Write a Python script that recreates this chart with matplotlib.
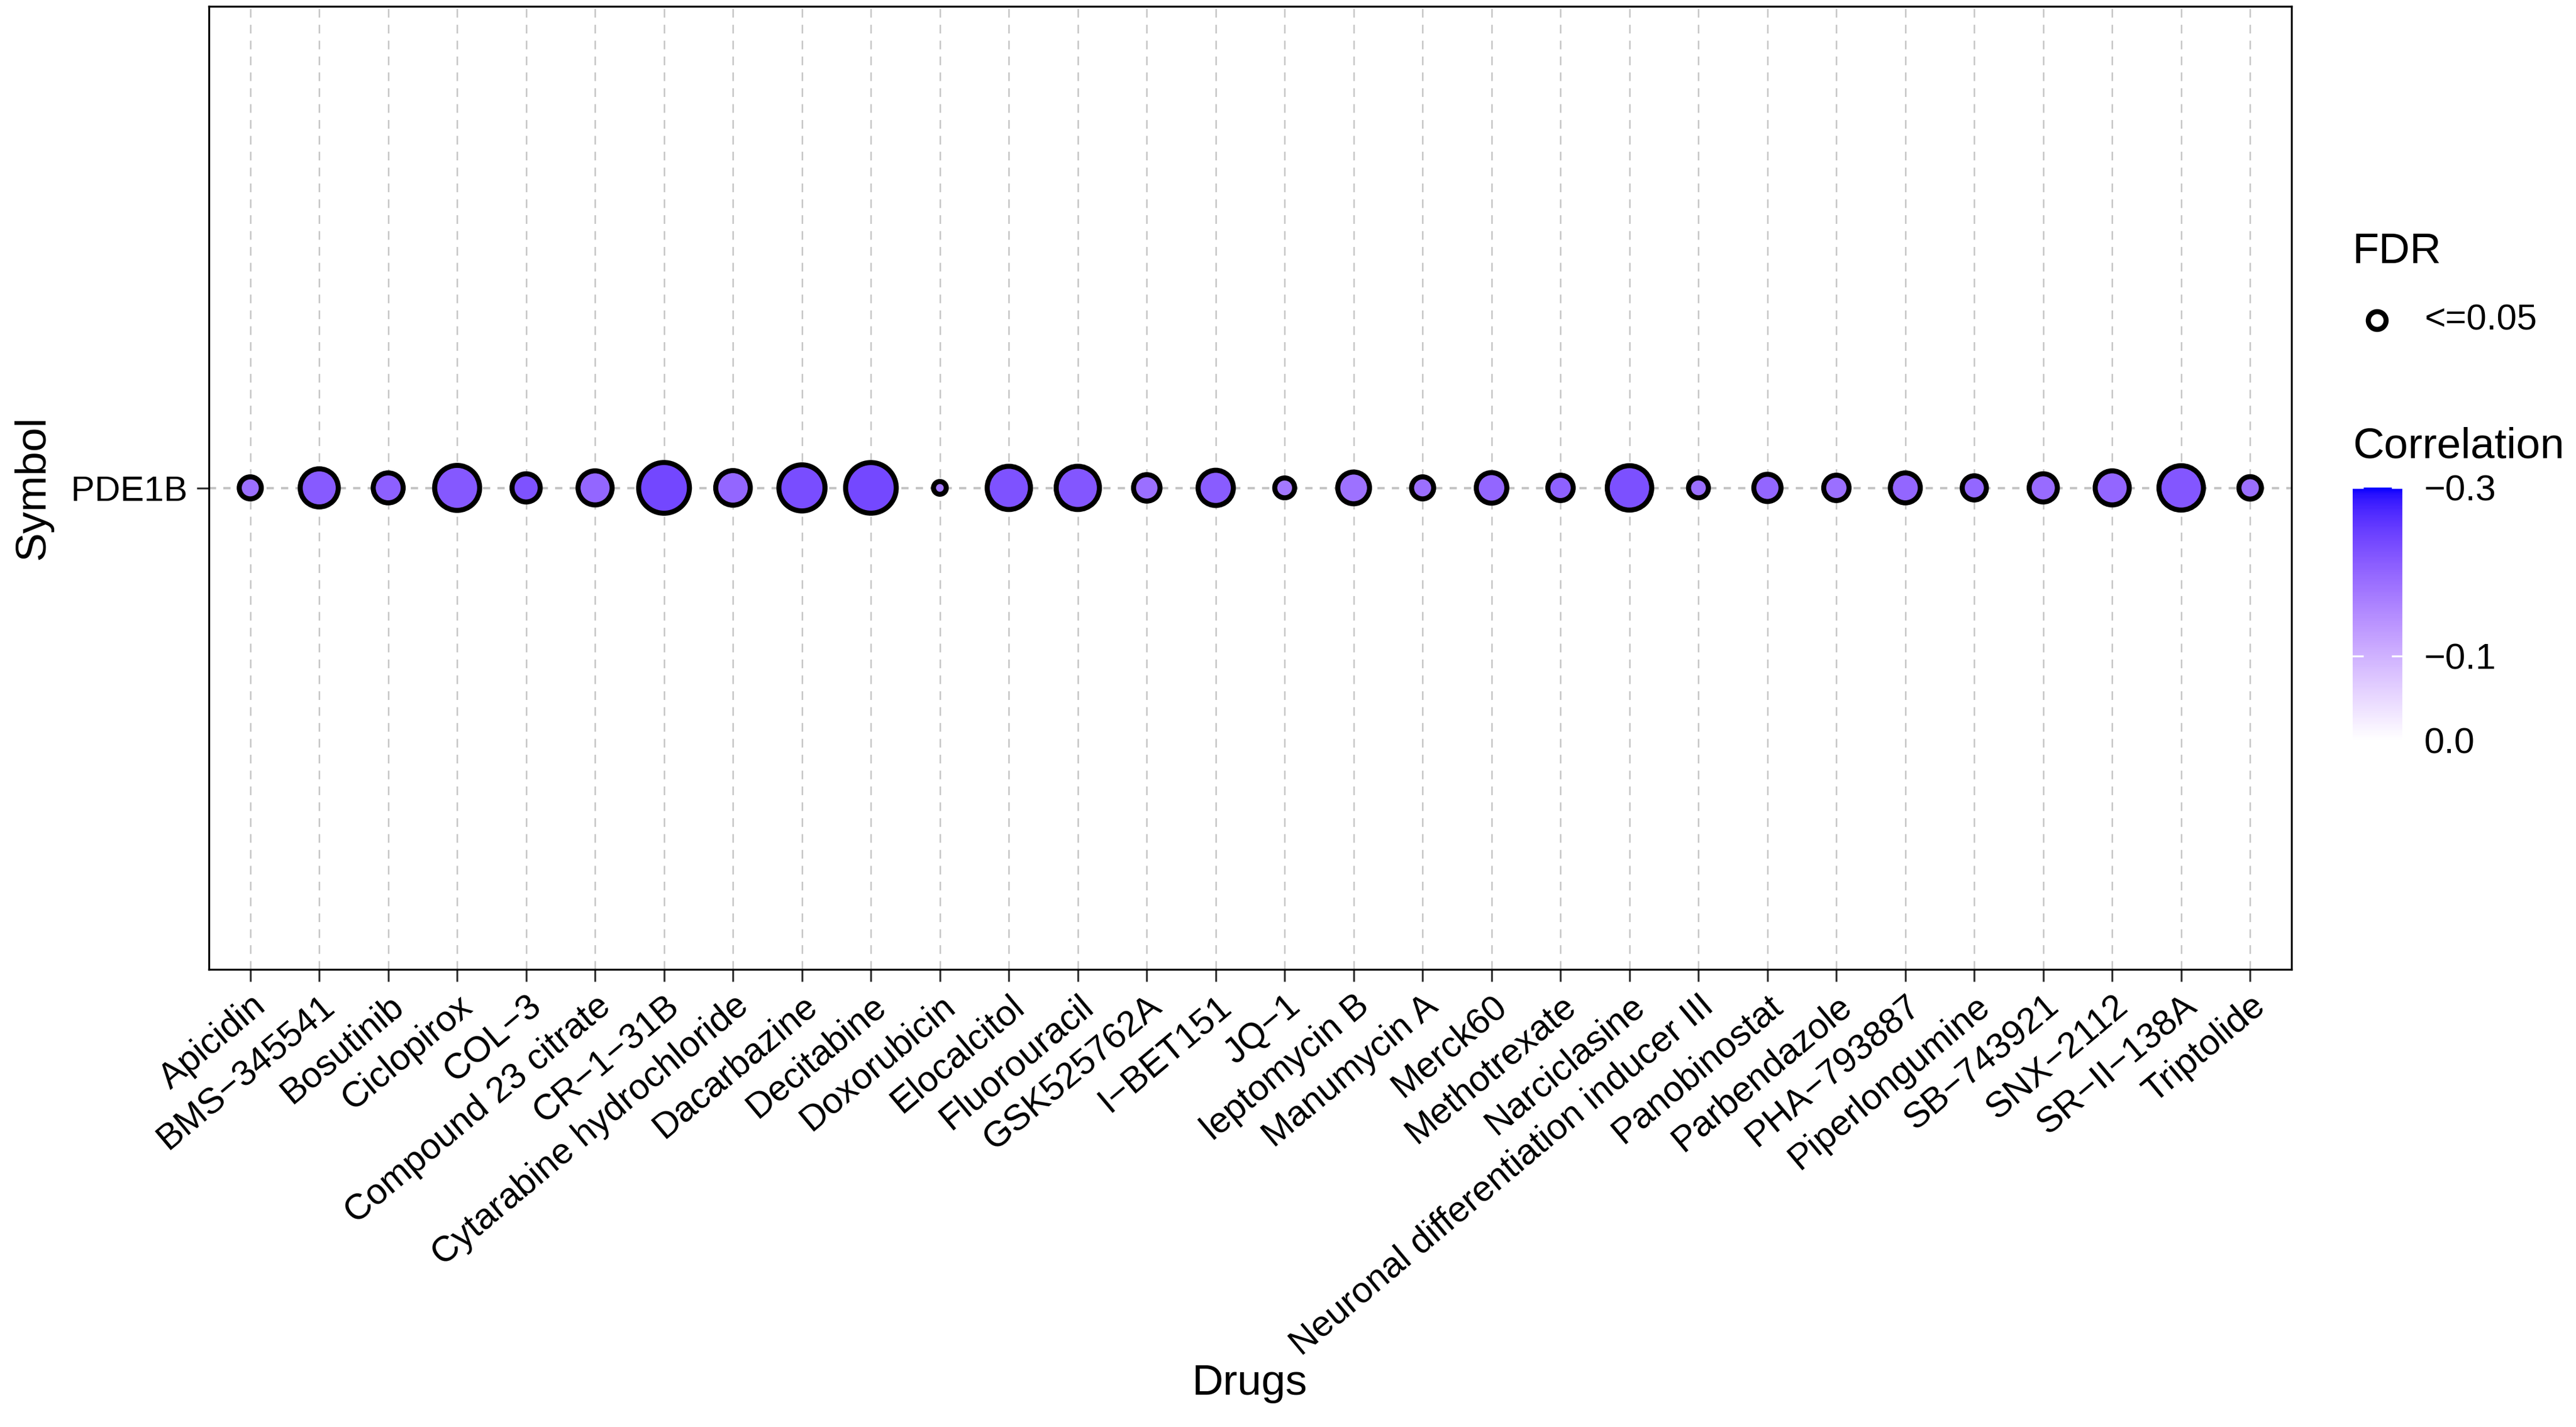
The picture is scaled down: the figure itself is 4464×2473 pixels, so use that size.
"""
Drug sensitivity bubble plot for PDE1B (correlation vs. drugs).
"""

import matplotlib
matplotlib.use("Agg")
import matplotlib.pyplot as plt
import numpy as np
from matplotlib.colors import ListedColormap, Normalize
from matplotlib.lines import Line2D

plt.rcParams['font.family'] = ['Liberation Sans', 'DejaVu Sans']

# data
drugs = [
    "Apicidin", "BMS\u2212345541", "Bosutinib", "Ciclopirox", "COL\u22123",
    "Compound 23 citrate", "CR\u22121\u221231B", "Cytarabine hydrochloride",
    "Dacarbazine", "Decitabine", "Doxorubicin", "Elocalcitol", "Fluorouracil",
    "GSK525762A", "I\u2212BET151", "JQ\u22121", "leptomycin B", "Manumycin A",
    "Merck60", "Methotrexate", "Narciclasine",
    "Neuronal differentiation inducer III", "Panobinostat", "Parbendazole",
    "PHA\u2212793887", "Piperlongumine", "SB\u2212743921", "SNX\u22122112",
    "SR\u2212II\u2212138A", "Triptolide",
]
symbols = ["PDE1B"]
correlation = [
    -0.187, -0.214, -0.206, -0.216, -0.224, -0.199, -0.237, -0.199,
    -0.230, -0.236, -0.178, -0.224, -0.219, -0.187, -0.211, -0.175,
    -0.185, -0.187, -0.199, -0.204, -0.227, -0.187, -0.199, -0.187,
    -0.199, -0.197, -0.192, -0.199, -0.219, -0.187,
]
neg_log10_fdr = [
    3.2, 10.9, 6.1, 16.4, 5.3, 8.3, 22.0, 8.6, 17.4, 21.9,
    2.0, 14.9, 14.9, 4.6, 9.0, 2.7, 7.0, 3.2, 6.4, 4.2,
    15.9, 2.7, 4.9, 4.2, 6.1, 3.8, 5.3, 8.3, 15.9, 3.3,
]
fdr_levels = ["<=0.05"]
cbar_ticks = [-0.3, -0.1, 0.0]
cbar_labels = ["\u22120.3", "\u22120.1", "0.0"]
corr_limits = (-0.3, 0.0)


# --- white -> blue gradient interpolated in CIELAB (like ggplot) ---
_M = np.array([[0.4124564, 0.3575761, 0.1804375],
               [0.2126729, 0.7151522, 0.0721750],
               [0.0193339, 0.1191920, 0.9503041]])
_WHITE = np.array([0.95047, 1.0, 1.08883])


def srgb_to_lab(rgb):
    rgb = np.asarray(rgb, float)
    lin = np.where(rgb <= 0.04045, rgb / 12.92, ((rgb + 0.055) / 1.055) ** 2.4)
    f = (_M @ lin) / _WHITE
    d = 6 / 29
    f = np.where(f > d ** 3, np.cbrt(f), f / (3 * d ** 2) + 4 / 29)
    return np.array([116 * f[1] - 16, 500 * (f[0] - f[1]), 200 * (f[1] - f[2])])


def lab_to_srgb(lab):
    L, a, b = lab
    fy = (L + 16) / 116
    fx = fy + a / 500
    fz = fy - b / 200
    d = 6 / 29
    f = np.array([fx, fy, fz])
    xyz = np.where(f > d, f ** 3, 3 * d ** 2 * (f - 4 / 29)) * _WHITE
    lin = np.linalg.solve(_M, xyz)
    lin = np.clip(lin, 0, 1)
    rgb = np.where(lin <= 0.0031308, 12.92 * lin, 1.055 * lin ** (1 / 2.4) - 0.055)
    return np.clip(rgb, 0, 1)


lab_blue = srgb_to_lab([0, 0, 1])
lab_white = srgb_to_lab([1, 1, 1])
ramp = [lab_to_srgb(lab_blue * (1 - u) + lab_white * u) for u in np.linspace(0, 1, 256)]
cmap = ListedColormap(ramp)
norm = Normalize(*corr_limits)

# point size: area palette (diameter ~ sqrt of rescaled value)
v = np.array(neg_log10_fdr)
t = (v - v.min()) / (v.max() - v.min())
diam = 5.3 + (21.1 - 5.3) * np.sqrt(t)

W, H = 4464, 2473
fig = plt.figure(figsize=(W / 300, H / 300), dpi=300)


def fx(px):
    return px / W


def fy(py):
    return 1 - py / H


ax = fig.add_axes([fx(362), fy(1680), fx(3971) - fx(362), fy(11) - fy(1680)])

x = np.arange(len(drugs))
y = np.zeros(len(drugs))

# grid
for xi in x:
    ax.axvline(xi, color='#c4c4c4', lw=0.6, ls=(0, (6, 5)), zorder=1)
ax.axhline(0, color='#c4c4c4', lw=1.0, ls=(0, (3, 3)), zorder=1)

ax.scatter(x, y, s=diam ** 2, c=correlation, cmap=cmap, norm=norm,
           edgecolors='black', linewidths=2.1, zorder=3)

ax.set_xlim(-0.6, len(drugs) - 1 + 0.6)
ax.set_ylim(-0.6, 0.6)
ax.set_xticks(x)
ax.set_xticklabels(drugs, rotation=40, ha='right', va='top',
                   rotation_mode='anchor', fontsize=15)
ax.set_yticks([0])
ax.set_yticklabels(symbols, fontsize=14.8)
ax.tick_params(length=5, width=0.8, color='#333333', pad=4, labelcolor='black')
ax.tick_params(axis='x', pad=3)
for sp in ax.spines.values():
    sp.set_linewidth(0.8)
    sp.set_color('black')

fig.text(fx(2166), fy(2397), "Drugs", ha='center', va='center', fontsize=18)
fig.text(fx(57), fy(845), "Symbol", ha='center', va='center', rotation=90,
         fontsize=18)

# FDR legend
fig.text(fx(4077), fy(436), "FDR", ha='left', va='center', fontsize=18)
fig.add_artist(Line2D([fx(4119)], [fy(555)], marker='o', markersize=7.4,
                      mfc='white', mec='black', mew=2.1, ls='none',
                      transform=fig.transFigure))
fig.text(fx(4202), fy(555), fdr_levels[0], ha='left', va='center', fontsize=15)

# Correlation colourbar
fig.text(fx(4077), fy(774), "Correlation", ha='left', va='center', fontsize=18)
cax = fig.add_axes([fx(4077), fy(1283), fx(4163) - fx(4077), fy(845) - fy(1283)])
edges = np.linspace(corr_limits[0], corr_limits[1], 301)
mids = (edges[:-1] + edges[1:]) / 2
cax.pcolormesh([0, 1], edges, mids[:, None], cmap=cmap, norm=norm,
               shading='flat', rasterized=True)
cax.set_xlim(0, 1)
cax.set_ylim(corr_limits[1], corr_limits[0])
for tk in cbar_ticks:
    cax.plot([0, 0.2], [tk, tk], color='white', lw=0.8)
    cax.plot([0.8, 1], [tk, tk], color='white', lw=0.8)
cax.set_xticks([])
cax.yaxis.tick_right()
cax.set_yticks(cbar_ticks)
cax.set_yticklabels(cbar_labels, fontsize=15.2)
cax.tick_params(axis='y', length=0, pad=9)
for sp in cax.spines.values():
    sp.set_visible(False)

fig.savefig("out.png", dpi=300)
